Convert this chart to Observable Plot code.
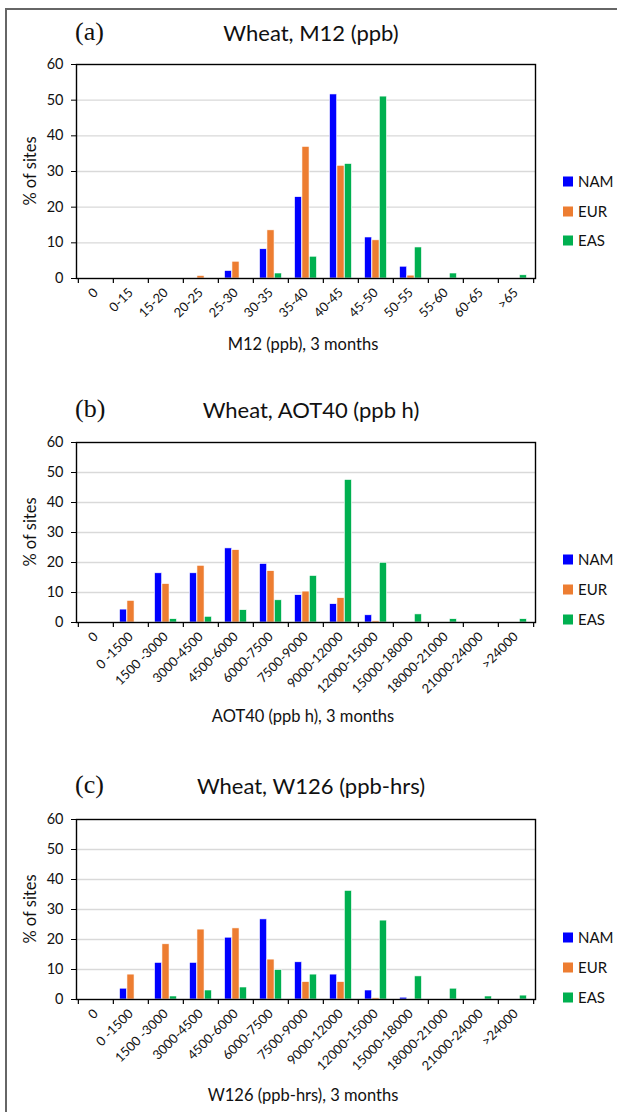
<!DOCTYPE html>
<html><head><meta charset="utf-8">
<script src="https://cdn.jsdelivr.net/npm/d3@7"></script>
<script src="https://cdn.jsdelivr.net/npm/@observablehq/plot@0.6"></script>
<style>
body{margin:0;background:#fff;}
#wrap{position:relative;width:617px;height:1112px;overflow:hidden;background:#fff;font-family:Lato,"Open Sans",sans-serif;color:#111;}
.frame{position:absolute;left:5px;top:8px;right:-10px;bottom:-10px;border-left:2px solid #666;border-top:2px solid #666;}
.abs{position:absolute;white-space:nowrap;line-height:1;}
.tag{font-family:"Liberation Serif","DejaVu Serif",serif;font-size:26px;}
.title{font-size:22px;transform:translate(-50%,-50%);}
.xlab{font-size:16.5px;transform:translate(-50%,-50%);}
.ylab{font-size:16.5px;transform:translate(-50%,-50%) rotate(-90deg);}
.leg{font-size:15px;transform:translateY(-50%);display:flex;align-items:center;}
.sw{width:10px;height:10px;margin-right:5px;}
.panel{position:absolute;left:0;}
</style></head>
<body><div id="wrap"><div class="frame"></div></div>
<script>
const series = ["NAM","EUR","EAS"];
const colors = ["#0000ff","#ed7d31","#00b050"];
const yTicks = [0,10,20,30,40,50,60];

const m12Cats = ["0","0-15","15-20","20-25","25-30","30-35","35-40","40-45","45-50","50-55","55-60","60-65",">65"];
const m12NAM = [0,0,0,0,2.1,8.2,22.8,51.6,11.5,3.3,0,0,0];
const m12EUR = [0,0,0,0.7,4.7,13.5,36.9,31.6,10.7,0.8,0,0,0];
const m12EAS = [0,0,0,0,0,1.4,6.1,32.1,51.0,8.7,1.4,0,0.9];

const aotCats = ["0","0 -1500","1500 -3000","3000-4500","4500-6000","6000-7500","7500-9000","9000-12000","12000-15000","15000-18000","18000-21000","21000-24000",">24000"];
const aotNAM = [0,4.3,16.4,16.4,24.7,19.5,9.1,6.1,2.4,0,0,0,0];
const aotEUR = [0,7.2,12.8,18.9,24.1,17.1,10.3,8.1,0.4,0,0,0,0];
const aotEAS = [0,0,1.1,1.9,4.1,7.4,15.5,47.5,19.9,2.7,1.1,0,1.1];

const w126Cats = ["0","0 -1500","1500 -3000","3000-4500","4500-6000","6000-7500","7500-9000","9000-12000","12000-15000","15000-18000","18000-21000","21000-24000",">24000"];
const w126NAM = [0,3.6,12.2,12.2,20.6,26.7,12.4,8.3,3.0,0.6,0,0,0];
const w126EUR = [0,8.3,18.4,23.3,23.7,13.3,5.8,5.8,0.4,0,0,0,0];
const w126EAS = [0,0,1.0,3.0,4.0,9.8,8.3,36.2,26.3,7.7,3.6,1.0,1.3];

const panels = [
  {tag:"(a)", title:"Wheat, M12 (ppb)", xlabel:"M12 (ppb), 3 months", cats:m12Cats, vals:[m12NAM,m12EUR,m12EAS],
   plotTop:64, plotH:214, mb:60, titleY:33, xlabY:344, legY:[181,211,240]},
  {tag:"(b)", title:"Wheat, AOT40 (ppb h)", xlabel:"AOT40 (ppb h), 3 months", cats:aotCats, vals:[aotNAM,aotEUR,aotEAS],
   plotTop:442, plotH:180, mb:90, titleY:410, xlabY:716, legY:[559,589,619]},
  {tag:"(c)", title:"Wheat, W126 (ppb-hrs)", xlabel:"W126 (ppb-hrs), 3 months", cats:w126Cats, vals:[w126NAM,w126EUR,w126EAS],
   plotTop:819, plotH:180, mb:90, titleY:786, xlabY:1095, legY:[937,967,997]}
];

const wrap = document.getElementById("wrap");
const W = 617, ML = 76, MR = 82, MT = 10;
const plotW = W - ML - MR;

function addDiv(cls, html, x, y){
  const d = document.createElement("div");
  d.className = "abs " + cls;
  d.innerHTML = html;
  d.style.left = x + "px"; d.style.top = y + "px";
  wrap.appendChild(d);
  return d;
}

for (const p of panels) {
  const n = p.cats.length;
  const bw = plotW / n;
  const slot = 7.4;
  const start = (bw - 3*slot)/2;
  const pxPerUnit = p.plotH / 60;
  const marks = [
    Plot.gridY({ticks:[10,20,30,40,50], stroke:"#d9d9d9", strokeOpacity:1, strokeWidth:1.4}),
  ];
  series.forEach((s,i) => {
    const data = p.cats.map((c,j) => ({cat:c, v:p.vals[i][j], s})).filter(d => d.v > 0);
    marks.push(Plot.barY(data, {x:"cat", y:"v", fill:colors[i], stroke:"white", strokeWidth:0.6,
      insetLeft: start + slot*i, insetRight: bw - (start + slot*(i+1))}));
  });
  marks.push(Plot.ruleX(p.cats, {x:d=>d, dx:-bw/2, y1:0, y2:-5/pxPerUnit, stroke:"#000", strokeWidth:1.2}));
  marks.push(Plot.ruleX([p.cats[n-1]], {x:d=>d, dx:bw/2, y1:0, y2:-5/pxPerUnit, stroke:"#000", strokeWidth:1.2}));
  marks.push(Plot.frame({stroke:"#000", strokeWidth:1.4}));
  marks.push(Plot.axisY({ticks:yTicks, tickSize:5, tickPadding:8, fontSize:14.5, stroke:"#000", label:null}));
  marks.push(Plot.axisX({tickSize:0, tickRotate:-45, tickPadding:12, fontSize:13, label:null}));
  const chart = Plot.plot({
    width: W, height: MT + p.plotH + p.mb,
    marginLeft: ML, marginRight: MR, marginTop: MT, marginBottom: p.mb,
    style:{fontFamily:"Lato, 'Open Sans', sans-serif", color:"#111", background:"transparent", overflow:"visible"},
    x:{type:"band", domain:p.cats, padding:0},
    y:{domain:[0,60]},
    marks
  });
  const holder = document.createElement("div");
  holder.className = "panel";
  holder.style.top = (p.plotTop - MT) + "px";
  holder.appendChild(chart);
  wrap.appendChild(holder);

  addDiv("tag", p.tag, 75, p.titleY - 14);
  addDiv("title", p.title, 311, p.titleY);
  addDiv("xlab", p.xlabel, 303, p.xlabY);
  addDiv("ylab", "% of sites", 30, p.plotTop + p.plotH/2);
  series.forEach((s,i) => {
    addDiv("leg", `<span class="sw" style="background:${colors[i]}"></span>${s}`, 563, p.legY[i]);
  });
}
</script></body></html>
